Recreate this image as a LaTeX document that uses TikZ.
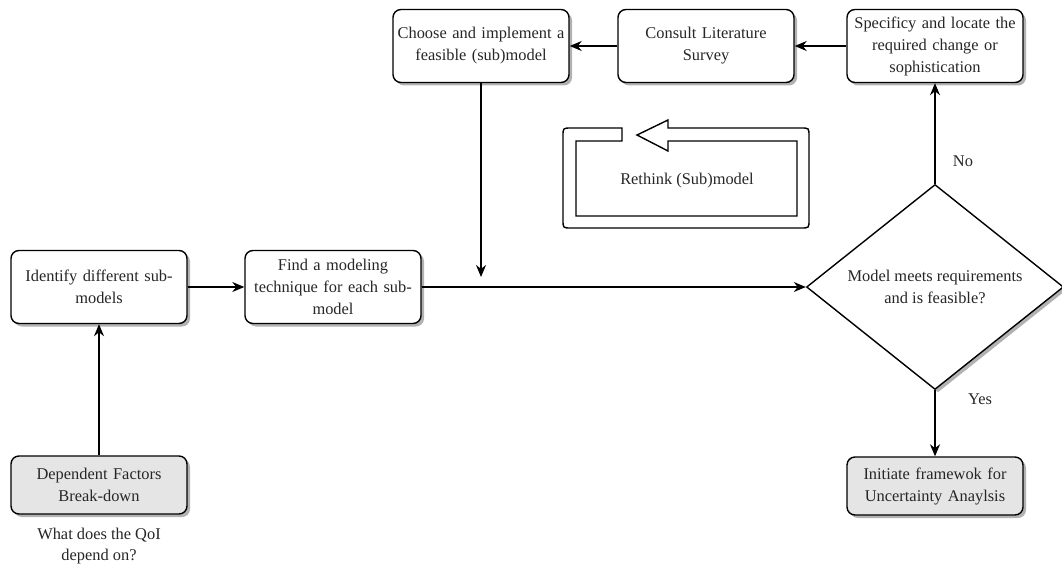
\documentclass[tikz,border=0pt]{standalone}
\usepackage{fontspec}
\setmainfont{Liberation Serif}
\usetikzlibrary{arrows.meta,shapes.geometric,shadows}

\begin{document}
\begin{tikzpicture}[x=1pt,y=-1pt,
  txt/.style={font=\fontsize{16.4}{22}\selectfont, text=black!85},
  box/.style={txt, draw, line width=1.4pt, rounded corners=8pt, fill=white,
    minimum width=176pt, minimum height=73pt, text width=172pt, align=center,
    inner sep=1pt,
    drop shadow={shadow xshift=3pt, shadow yshift=-3pt, fill=black!30, opacity=1}},
  greybox/.style={box, fill=black!10, minimum height=58pt},
  decision/.style={txt, diamond, draw, line width=1.4pt, fill=white,
    minimum width=257pt, minimum height=205pt, aspect=1.25, inner sep=0pt,
    align=center,
    drop shadow={shadow xshift=3pt, shadow yshift=-3pt, fill=black!30, opacity=1}},
  link/.style={line width=1.3pt, -{Stealth[length=12pt,width=10pt]}},
  lbl/.style={txt, inner sep=0pt}
]
\useasboundingbox (0,0) rectangle (1062,567);

% top row
\node[box] (choose)  at (481,46)  {Choose and implement a\\feasible (sub)model};
\node[box] (consult) at (706,46)  {Consult Literature\\Survey};
\node[box] (spec)    at (935,46)  {Specificy and locate the\\required change or\\sophistication};

% middle row
\node[box] (ident) at (99,287)  {Identify different sub-\\models};
\node[box] (find)  at (333,287) {Find a modeling\\technique for each sub-\\model};
\node[decision] (dec) at (935,287) {Model meets requirements\\and is feasible?};

% bottom row
\node[greybox] (dep)  at (99,485)  {Dependent Factors\\Break-down};
\node[greybox] (init) at (935,486) {Initiate framewok for\\Uncertainty Anaylsis};
\node[lbl, align=center, font=\fontsize{16.4}{20.5}\selectfont] (qoi) at (99,546)
  {What does the QoI\\depend on?};

% loop-back symbol
\draw[line width=1.4pt, fill=white]
  (622,141) -- (622,128) -- (571,128) .. controls (563,128) .. (563,136)
  -- (563,220) .. controls (563,228) .. (571,228)
  -- (801,228) .. controls (809,228) .. (809,220)
  -- (809,136) .. controls (809,128) .. (801,128)
  -- (668,128) -- (668,120) -- (637,135) -- (668,151) -- (668,141)
  -- (797,141) -- (797,216) -- (576,216) -- (576,141) -- cycle;
\node[lbl] (rethink) at (687,181) {Rethink (Sub)model};

% connectors
\coordinate (join) at (481,277);
\draw[link] (dep) -- (ident);
\draw[link] (ident) -- (find);
\draw[link] (find.east) -- (dec.west);
\draw[link] (choose) -- (join);
\draw[link] (dec.north) -- (spec.south);
\draw[link] (spec) -- (consult);
\draw[link] (consult) -- (choose);
\draw[link] (dec.south) -- (init.north);

\node[lbl] (no)  at (963,161) {No};
\node[lbl] (yes) at (980,399) {Yes};
\end{tikzpicture}
\end{document}
